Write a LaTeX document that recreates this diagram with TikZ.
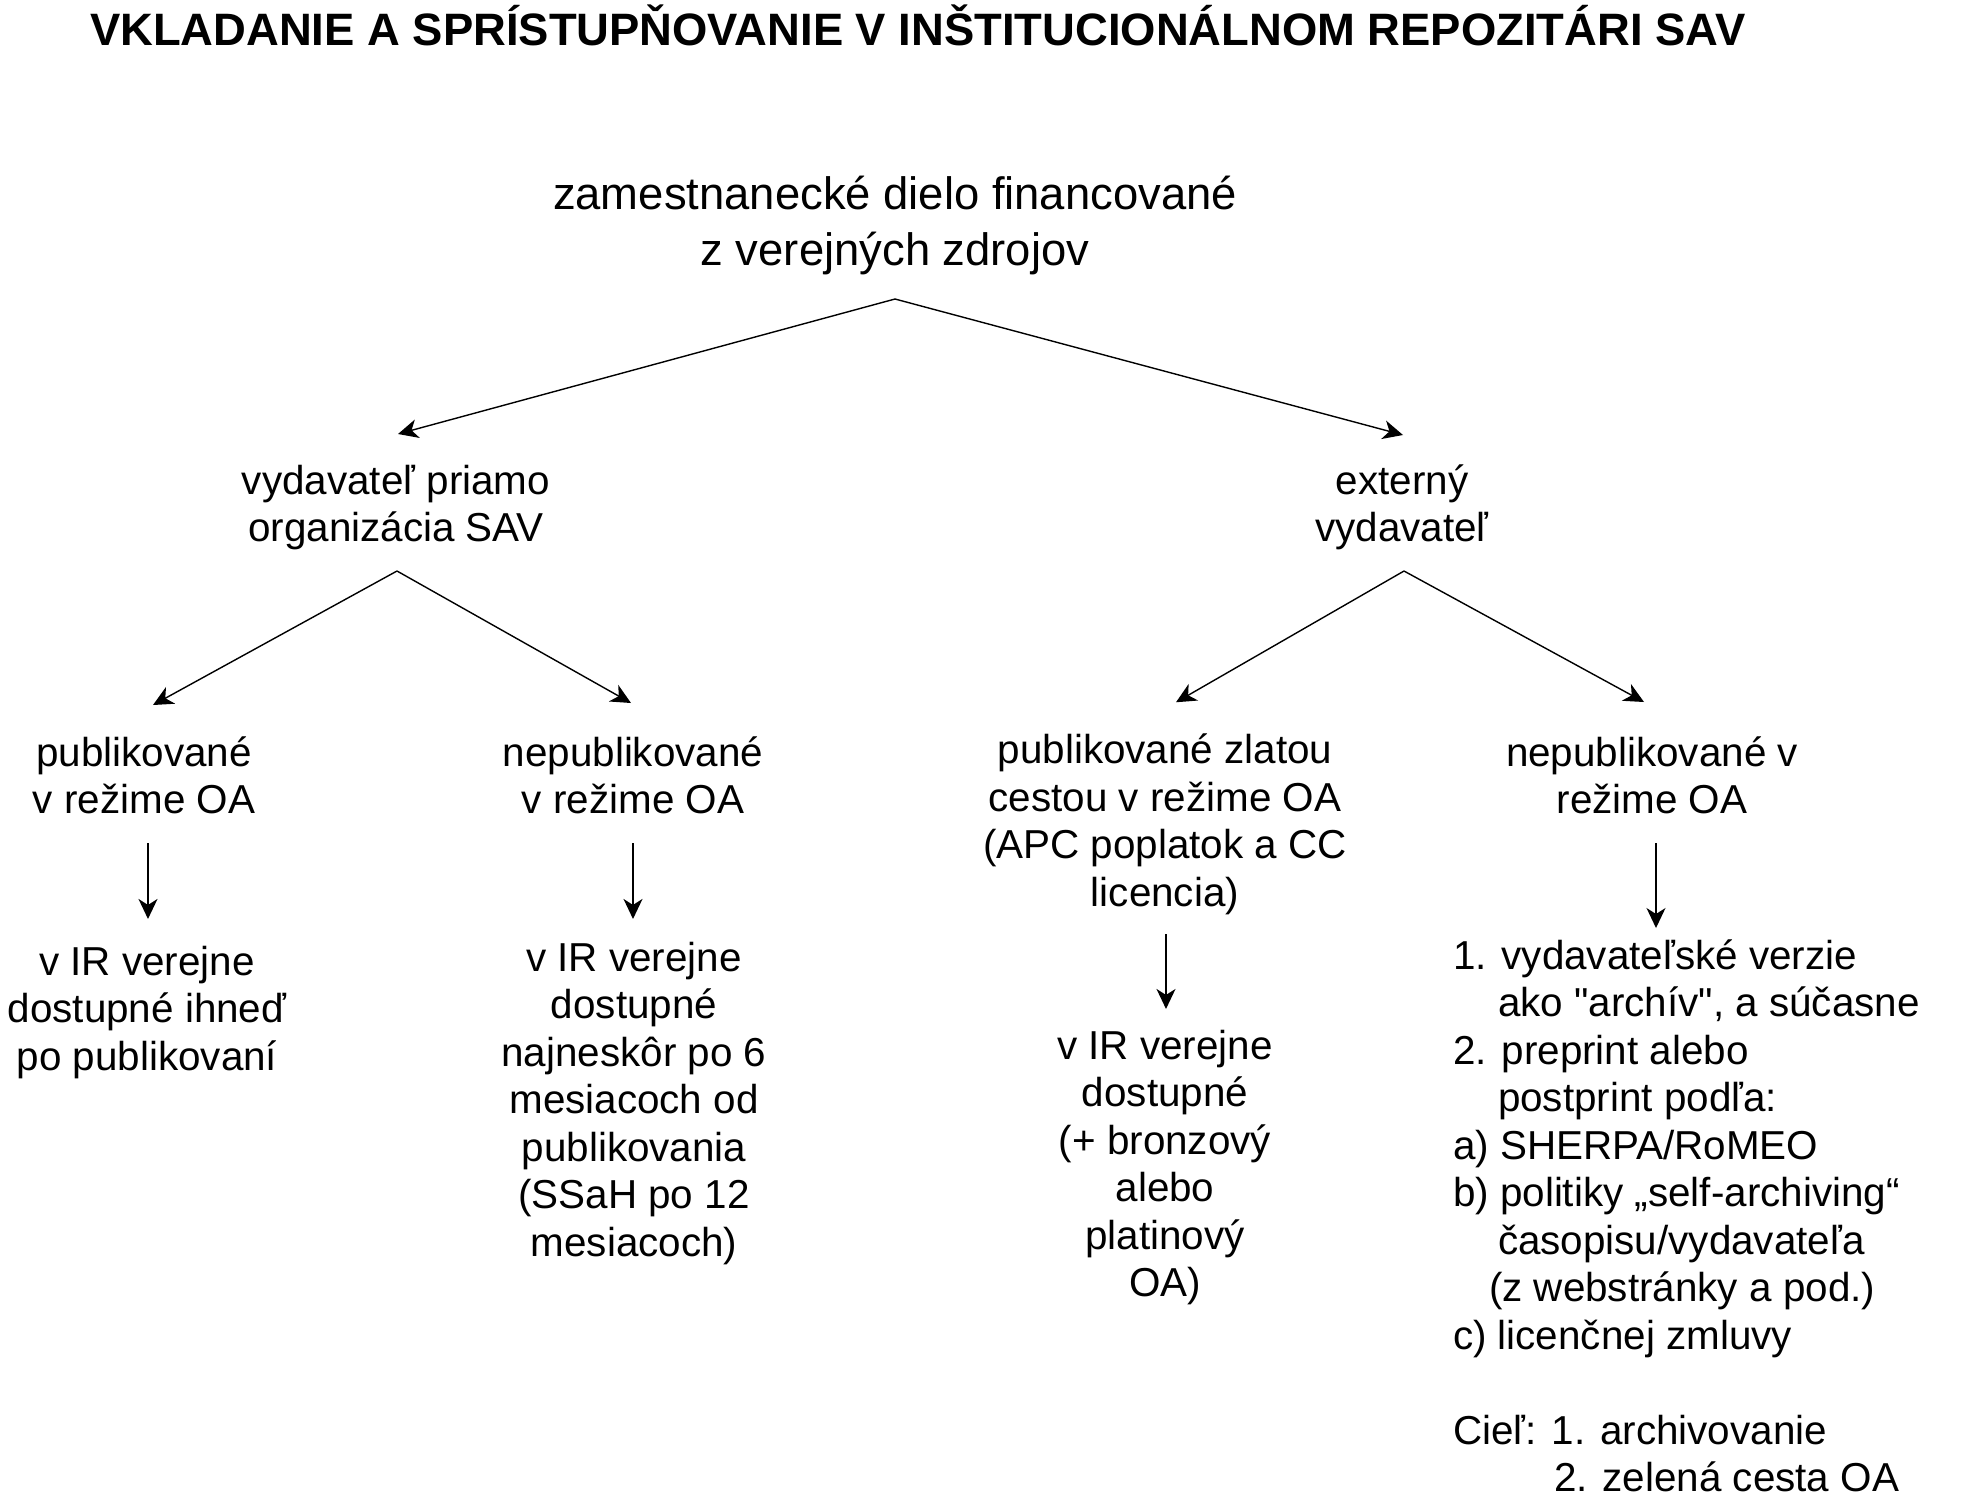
\documentclass[tikz,border=0pt]{standalone}
\usepackage{fontspec}
\setmainfont{Liberation Sans}[Ligatures=TeXOff]
\usetikzlibrary{arrows.meta}
\begin{document}
\begin{tikzpicture}[x=0.5pt,y=-0.5pt,
  txt/.style={inner sep=0pt, outer sep=0pt, anchor=north, align=center, font=\fontsize{20.2}{23.75}\selectfont},
  toptxt/.style={inner sep=0pt, outer sep=0pt, anchor=north, align=center, font=\fontsize{22.7}{28}\selectfont},
  titletxt/.style={inner sep=0pt, outer sep=0pt, anchor=base west, font=\fontsize{22.7}{27}\selectfont\bfseries},
  arr/.style={-{Stealth[length=10pt,width=9.5pt,inset=3pt]}, line width=0.7pt}]
\useasboundingbox (0,0) rectangle (1971,1500);

\node[titletxt] (title) at (90,45) {VKLADANIE A SPRÍSTUPŇOVANIE V INŠTITUCIONÁLNOM REPOZITÁRI SAV};

\node[toptxt] (top) at (895,169.8) {\strut zamestnanecké dielo financované\\\strut z verejných zdrojov};

\node[txt] (l2a) at (396,461) {\strut vydavateľ priamo\\\strut organizácia SAV};
\node[txt] (l2b) at (1402,461) {\strut externý\\\strut vydavateľ};

\node[txt] (l3a) at (144,733) {\strut publikované\\\strut v režime OA};
\node[txt] (l3b) at (633,733) {\strut nepublikované\\\strut v režime OA};
\node[txt] (l3c) at (1165,730.25) {\strut publikované zlatou\\\strut cestou v režime OA\\\strut (APC poplatok a CC\\\strut licencia)};
\node[txt] (l3d) at (1652,733) {\strut nepublikované v\\\strut režime OA};

\node[txt] (l4a) at (147,941.75) {\strut v IR verejne\\\strut dostupné ihneď\\\strut po publikovaní};
\node[txt] (l4b) at (634,937.75) {\strut v IR verejne\\\strut dostupné\\\strut najneskôr po 6\\\strut mesiacoch od\\\strut publikovania\\\strut (SSaH po 12\\\strut mesiacoch)};
\node[txt] (l4c) at (1165,1025.75) {\strut v IR verejne\\\strut dostupné\\\strut (+ bronzový\\\strut alebo\\\strut platinový\\\strut OA)};
\node[txt, anchor=north west, align=left] (l4d) at (1453,936) {%
\strut 1. vydavateľské verzie\\
\strut\hspace*{22.5pt}ako "archív", a súčasne\\
\strut 2. preprint alebo\\
\strut\hspace*{22.5pt}postprint podľa:\\
\strut a) SHERPA/RoMEO\\
\strut b) politiky „self-archiving“\\
\strut\hspace*{22.5pt}časopisu/vydavateľa\\
\strut\hspace*{18pt}(z webstránky a pod.)\\
\strut c) licenčnej zmluvy\\
\strut\\
\strut Cieľ: 1. archivovanie\\
\strut\hspace*{50.5pt}2. zelená cesta OA};

\draw[arr] ([yshift=-8.6pt]top.south) -- ([xshift=1pt,yshift=13.5pt]l2a.north);
\draw[arr] ([yshift=-8.6pt]top.south) -- ([xshift=0.5pt,yshift=13pt]l2b.north);
\draw[arr] ([xshift=0.5pt,yshift=-7.5pt]l2a.south) -- ([xshift=4.5pt,yshift=14pt]l3a.north);
\draw[arr] ([xshift=0.5pt,yshift=-7.5pt]l2a.south) -- ([xshift=-1pt,yshift=15pt]l3b.north);
\draw[arr] ([xshift=1pt,yshift=-7.5pt]l2b.south) -- ([xshift=5.5pt,yshift=14pt]l3c.north);
\draw[arr] ([xshift=1pt,yshift=-7.5pt]l2b.south) -- ([xshift=-4pt,yshift=15.5pt]l3d.north);
\draw[arr] ([xshift=2pt,yshift=-7.5pt]l3a.south) -- ([xshift=0.5pt,yshift=11.4pt]l4a.north);
\draw[arr] ([yshift=-7.5pt]l3b.south) -- ([xshift=-0.5pt,yshift=9.4pt]l4b.north);
\draw[arr] ([xshift=0.5pt,yshift=-6.9pt]l3c.south) -- ([xshift=0.5pt,yshift=8.4pt]l4c.north);
\draw[arr] ([xshift=2pt,yshift=-7.5pt]l3d.south) -- ([xshift=101.5pt,yshift=4pt]l4d.north west);
\end{tikzpicture}
\end{document}
